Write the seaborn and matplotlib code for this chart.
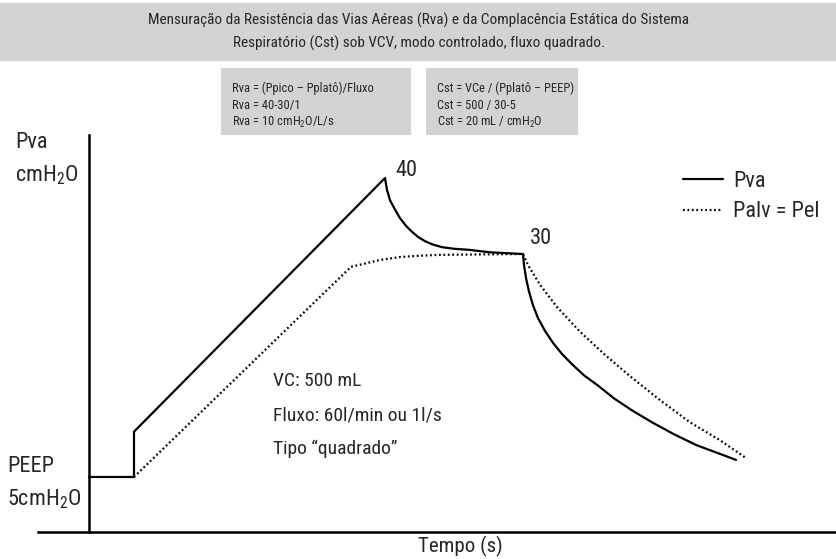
import matplotlib
matplotlib.use("Agg")
import matplotlib.pyplot as plt
from matplotlib import font_manager
from matplotlib.patches import Rectangle
import seaborn as sns
import pandas as pd

# Curvas: tempo (s) e pressão (cmH2O, esquemática)
t_pva = [0.0, 0.09, 0.09, 0.592, 0.596, 0.602, 0.612, 0.622, 0.634, 0.646, 0.658, 0.672,
         0.688, 0.706, 0.732, 0.758, 0.802, 0.868,
         0.870, 0.874, 0.880, 0.888, 0.898, 0.912, 0.928, 0.946, 0.966, 0.990, 1.018,
         1.050, 1.086, 1.126, 1.170, 1.216, 1.262, 1.294]
p_pva = [5.0, 5.0, 10.3, 40.0, 38.6, 37.4, 36.3, 35.3, 34.4, 33.7, 33.1, 32.6,
         32.2, 31.9, 31.7, 31.6, 31.3, 31.1,
         29.8, 28.3, 26.7, 25.1, 23.6, 22.1, 20.7, 19.4, 18.2, 16.9, 15.7,
         14.2, 12.8, 11.4, 10.0, 8.7, 7.7, 7.0]

t_palv = [0.09, 0.524, 0.546, 0.582, 0.622, 0.662, 0.702, 0.782, 0.868,
          0.878, 0.902, 0.936, 0.982, 1.032, 1.082, 1.142, 1.202, 1.262, 1.312]
p_palv = [5.0, 29.6, 29.9, 30.4, 30.75, 30.9, 31.0, 31.05, 31.1,
          29.8, 27.5, 24.9, 22.0, 19.3, 16.8, 14.0, 11.4, 9.3, 7.3]

nomes_curvas = ['Pva', 'Palv = Pel']

titulo = ['Mensuração da Resistência das Vias Aéreas (Rva) e da Complacência Estática do Sistema',
          'Respiratório (Cst) sob VCV, modo controlado, fluxo quadrado.']
formula_rva = ['Rva = (Ppico – Pplatô)/Fluxo', 'Rva = 40-30/1', r'Rva = 10 cmH$_\mathregular{2}$O/L/s']
formula_cst = ['Cst = VCe / (Pplatô – PEEP)', 'Cst = 500 / 30-5', r'Cst = 20 mL / cmH$_\mathregular{2}$O']
info = ['VC: 500 mL', 'Fluxo: 60l/min ou 1l/s', 'Tipo “quadrado”']

sns.set_theme(style="white")

# procura uma fonte estreita parecida com a original; se não houver, Liberation Sans
fonte, esticar, k = 'Liberation Sans', 'normal', 0.9
preferidas = ['Liberation Sans Narrow', 'Roboto Condensed', 'DejaVu Sans', 'Open Sans Condensed', 'Noto Sans']
achadas = {}
for f in font_manager.fontManager.ttflist:
    estreita = ('Narrow' in f.name or 'Condensed' in f.name or f.stretch in ('condensed', 'semi-condensed'))
    if estreita and f.style == 'normal' and f.weight in (400, 'normal', 'regular'):
        achadas.setdefault(f.name, f.stretch)
for nome in preferidas:
    if nome in achadas:
        fonte, esticar, k = nome, achadas[nome], 1.0
        break

plt.rcParams['font.family'] = [fonte, 'DejaVu Sans']
plt.rcParams['font.stretch'] = esticar

W, H = 837, 559
cinza = '#d1d3d4'
fx = lambda px: px / W
fy = lambda py: 1 - py / H

fig = plt.figure(figsize=(W / 100, H / 100), dpi=100)

# faixa do título
fig.add_artist(Rectangle((0, fy(61)), 1, fy(3) - fy(61), transform=fig.transFigure,
                         facecolor=cinza, edgecolor='none', zorder=0))
for i, linha in enumerate(titulo):
    fig.text(fx(419), fy(20 + 23 * i), linha, ha='center', va='center', fontsize=11 * k)

# caixas das fórmulas
for x0, x1, linhas in [(221, 411, formula_rva), (426, 578, formula_cst)]:
    fig.add_artist(Rectangle((fx(x0), fy(141)), fx(x1) - fx(x0), fy(68) - fy(141),
                             transform=fig.transFigure, facecolor=cinza, edgecolor='none', zorder=0))
    for i, linha in enumerate(linhas):
        fig.text(fx(x0 + 11), fy(88 + 17 * i), linha, ha='left', va='center', fontsize=9 * k)

# eixos: 500 px por segundo, ~8.54 px por cmH2O
ax = fig.add_axes([fx(38), fy(532), fx(837) - fx(38), fy(135) - fy(532)])
ax.set_xlim(-0.102, 1.496)
ax.set_ylim(-1.44, 45.03)

dados = pd.concat([
    pd.DataFrame({'t': t_pva, 'p': p_pva, 'curva': nomes_curvas[0]}),
    pd.DataFrame({'t': t_palv, 'p': p_palv, 'curva': nomes_curvas[1]}),
])
sns.lineplot(dados, x='t', y='p', style='curva', style_order=nomes_curvas,
             dashes={nomes_curvas[0]: '', nomes_curvas[1]: (0.8, 1.2)},
             color='black', lw=1.6, estimator=None, sort=False, legend=False, ax=ax)

ax.set(xlabel='', ylabel='', xticks=[], yticks=[])
for lado in ['top', 'right']:
    ax.spines[lado].set_visible(False)
ax.spines['left'].set_position(('data', 0))
for lado in ['left', 'bottom']:
    ax.spines[lado].set_color('black')
    ax.spines[lado].set_linewidth(1.8)

ax.text(0.612, 40.9, '40', ha='left', va='center', fontsize=16)
ax.text(0.882, 32.9, '30', ha='left', va='center', fontsize=16)

ax.legend(ax.lines[:2], nomes_curvas, loc='upper left', bbox_to_anchor=(fx(683), fy(171)),
          bbox_transform=fig.transFigure, frameon=False, fontsize=16 * k, borderpad=0,
          borderaxespad=0, handlelength=1.8 / k, handletextpad=0.45 / k, labelspacing=0.42)

# textos soltos
for i, linha in enumerate(info):
    fig.text(fx(273), fy(381 + 34 * i), linha, ha='left', va='center', fontsize=14 * k)
fig.text(fx(15), fy(143), 'Pva', ha='left', va='center', fontsize=16 * k)
fig.text(fx(15), fy(175), r'cmH$_\mathregular{2}$O', ha='left', va='center', fontsize=16 * k)
fig.text(fx(7), fy(467), 'PEEP', ha='left', va='center', fontsize=16 * k)
fig.text(fx(7), fy(499), r'5cmH$_\mathregular{2}$O', ha='left', va='center', fontsize=16 * k)
fig.text(fx(460), fy(546), 'Tempo (s)', ha='center', va='center', fontsize=15 * k)

fig.savefig('out.png', dpi=100)
